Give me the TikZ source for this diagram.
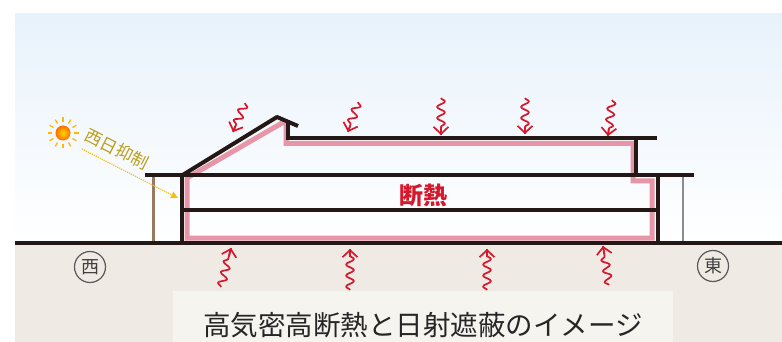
\documentclass[tikz,border=0pt]{standalone}
\usepackage{fontspec}
\setmainfont{Noto Sans CJK JP}
\usepackage{tikz}
\usetikzlibrary{arrows.meta, decorations.pathmorphing}

\definecolor{skytop}{RGB}{232,242,251}
\definecolor{soil}{RGB}{239,235,228}
\definecolor{capbg}{RGB}{246,244,239}
\definecolor{wallink}{RGB}{35,24,21}
\definecolor{insul}{RGB}{230,150,166}
\definecolor{heatred}{RGB}{214,24,44}
\definecolor{sunline}{RGB}{242,192,30}
\definecolor{westtxt}{RGB}{186,158,28}
\definecolor{posttan}{RGB}{150,122,98}

\tikzset{
  wall/.style={draw=wallink, line width=4pt},
  heat/.style={draw=heatred, line width=1.7pt, line join=round,
    decorate, decoration={snake, amplitude=4pt, segment length=11pt, post length=6pt}},
  heattip/.style={draw=heatred, line width=1.7pt,
    -{Straight Barb[length=7pt, width=15pt, line width=1.7pt]}},
  dir/.style={circle, draw=black!65, line width=1.2pt, minimum size=31pt,
    inner sep=0pt, font=\fontsize{18}{18}\selectfont, text=black!75}
}

\begin{document}
\begin{tikzpicture}[x=1pt, y=-1pt]

  \useasboundingbox (0,0) rectangle (782,342);

  % sky and soil
  \shade[top color=skytop, bottom color=white] (15,14) rectangle (782,243);
  \fill[soil] (15,243) rectangle (782,342);
  \fill[capbg] (173,291) rectangle (673,342);

  % insulation layer
  \draw[insul, line width=5pt, line join=miter]
    (187,238) -- (187,178) -- (282,123) -- (286,123) -- (286,143.5)
    -- (633,143.5) -- (633,181) -- (652,181) -- (652,238) -- cycle;

  % house section
  \draw[wall, line join=round] (181,176) -- (277,117) -- (298,126);
  \draw[wall] (288,120) -- (288,138) -- (657,138);
  \draw[wall] (636,138) -- (636,176);
  \draw[wall] (145,175.5) -- (694,175.5);
  \draw[wall] (182,209.5) -- (656,209.5);
  \draw[wall] (182,175) -- (182,242);
  \draw[wall] (658,175) -- (658,242);
  \draw[posttan, line width=3pt] (153,177) -- (153,241);
  \draw[black!45, line width=2pt] (683,177) -- (683,241);
  \draw[wall] (15,243) -- (782,243);

  % heat waves
  \foreach \n/\xa/\ya/\xb/\yb in {1/245/103/233/132, 2/358/102/348/132,
      3/441/98/441/135, 4/525/98/525/134, 5/612/100/608/136,
      6/221/287/231/248, 7/350/290/350/249, 8/487/290/487/249,
      9/609/285/603/246} {
    \coordinate (wa\n) at (\xa,\ya);
    \coordinate (wb\n) at (\xb,\yb);
    \path (wa\n) -- (wb\n) coordinate[pos=0.8] (wc\n);
    \draw[heat] (wa\n) -- (wb\n);
    \draw[heattip] (wc\n) -- (wb\n);
  }

  % western sun
  \shade[inner color=yellow!70!orange, outer color=orange!85!red] (63,133) circle (7.5);
  \foreach \a in {0,30,...,330}
    \draw[orange!55!yellow, line width=1.3pt] (63,133) ++(\a:11) -- ++(\a:4.5);
  \coordinate (sunray) at (82,149);
  \coordinate (wallhit) at (178,198);
  \draw[sunline, line width=1.2pt, densely dotted, -{Triangle[length=7pt, width=7pt]}]
    (sunray) -- (wallhit);
  \node[rotate=-27, text=westtxt, font=\fontsize{17}{17}\selectfont] (nishibi)
    at (117,149) {西日抑制};

  \node[text=heatred, font=\fontsize{24}{24}\selectfont\bfseries] (dannetsu)
    at (423,195) {断熱};

  \node[dir] (west) at (90,267) {西};
  \node[dir] (east) at (713,266) {東};

  \node[text=black!85, font=\fontsize{27.5}{27.5}\selectfont] (caption)
    at (423,325) {高気密高断熱と日射遮蔽のイメージ};

\end{tikzpicture}
\end{document}
